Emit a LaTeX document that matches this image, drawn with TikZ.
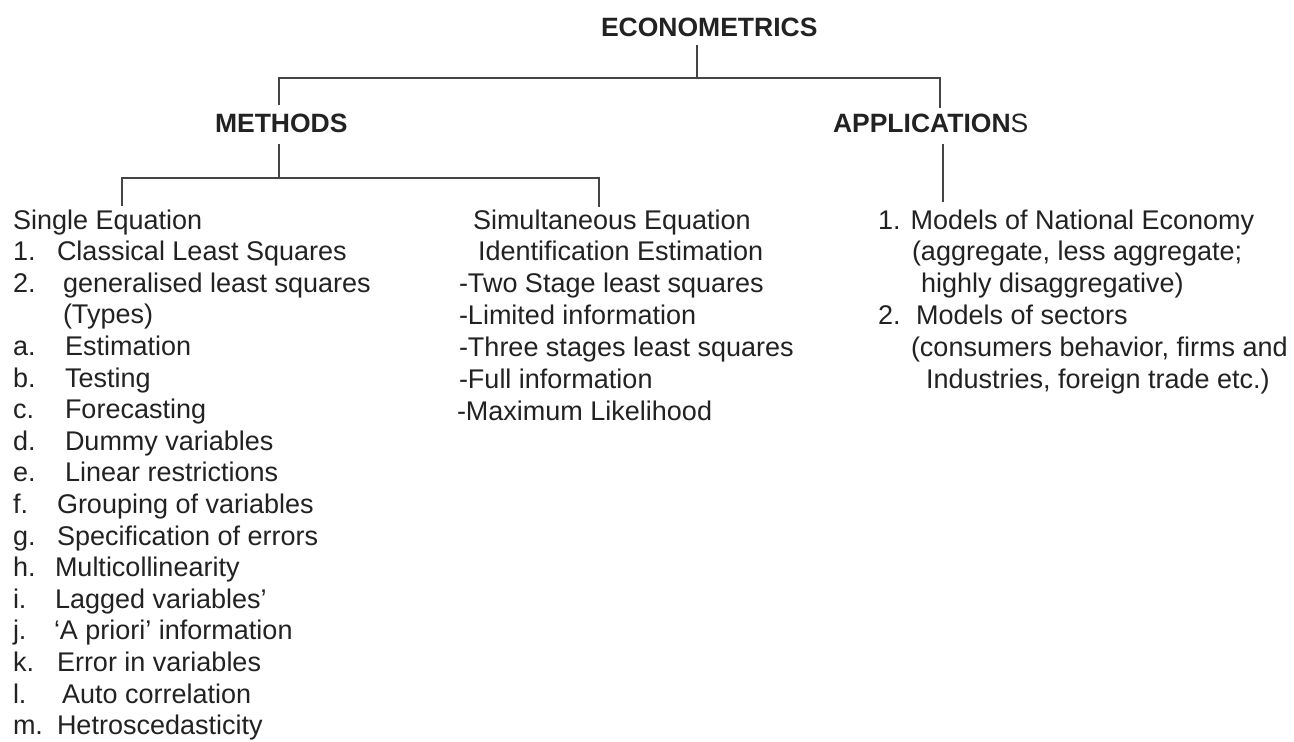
\documentclass[tikz,border=0pt]{standalone}
\usepackage{fontspec}
\setmainfont{Liberation Sans}
\definecolor{ink}{HTML}{222222}
\definecolor{linec}{HTML}{444444}
\begin{document}
\begin{tikzpicture}[x=1pt,y=-1pt,
  txt/.style={anchor=base west,inner sep=0pt,outer sep=0pt,text=ink,font=\fontsize{27}{32}\selectfont},
  hd/.style={txt,font=\fontsize{26.5}{32}\selectfont\bfseries},
  tree/.style={draw=linec,line width=1.3pt}]
\useasboundingbox[fill=white] (0,0) rectangle (1294,742);
% headings
\node[hd] (econ) at (601,36) {ECONOMETRICS};
\node[hd] (meth) at (215,132) {METHODS};
\node[hd] (appl) at (833,132) {APPLICATION\mdseries S};
% tree coordinates
\coordinate (e1) at (697,45);
\coordinate (e2) at (697,78);
\coordinate (hl) at (279,78);
\coordinate (hr) at (940,78);
\coordinate (ml) at (279,105);
\coordinate (ar) at (940,108);
\coordinate (m1) at (279,144);
\coordinate (m2) at (279,178);
\coordinate (bl) at (122,178);
\coordinate (br) at (599,178);
\coordinate (sl) at (122,206);
\coordinate (sr) at (599,207);
\coordinate (a1) at (943,144);
\coordinate (a2) at (943,202);
\draw[tree] (e1) -- (e2);
\draw[tree] (ml) -- (hl) -- (hr) -- (ar);
\draw[tree] (m1) -- (m2);
\draw[tree] (sl) -- (bl) -- (br) -- (sr);
\draw[tree] (a1) -- (a2);
% left column
\node[txt] (L0) at (13,229) {Single Equation};
\foreach \i/\lab/\xx/\tx in {
  1/1./57/Classical Least Squares,
  2/2./63/generalised least squares,
  3//63/(Types),
  4/a./65/Estimation,
  5/b./65/Testing,
  6/c./65/Forecasting,
  7/d./65/Dummy variables,
  8/e./65/Linear restrictions,
  9/f./57/Grouping of variables,
  10/g./57/Specification of errors,
  11/h./55/Multicollinearity,
  12/i./55/Lagged variables’,
  13/j./54/‘A priori’ information,
  14/k./57/Error in variables,
  15/l./62/Auto correlation,
  16/m./57/Hetroscedasticity}{
  \node[txt] (N\i) at (13,229+31.6*\i) {\lab};
  \node[txt] (L\i) at (\xx,229+31.6*\i) {\tx};
}
% middle column
\foreach \i/\xx/\tx in {
  0/473/Simultaneous Equation,
  1/478/Identification Estimation,
  2/459/-Two Stage least squares,
  3/459/-Limited information,
  4/459/-Three stages least squares,
  5/459/-Full information,
  6/457/-Maximum Likelihood}{
  \node[txt] (M\i) at (\xx,229+31.875*\i) {\tx};
}
% right column
\node[txt] (R0) at (878,229) {1. Models of National Economy};
\node[txt] (R1) at (912,260.875) {(aggregate, less aggregate;};
\node[txt] (R2) at (921,292.75) {highly disaggregative)};
\node[txt] (R3n) at (878,324.625) {2.};
\node[txt] (R3) at (916,324.625) {Models of sectors};
\node[txt] (R4) at (911,356.5) {(consumers behavior, firms and};
\node[txt] (R5) at (926,388.375) {Industries, foreign trade etc.)};
\end{tikzpicture}
\end{document}
